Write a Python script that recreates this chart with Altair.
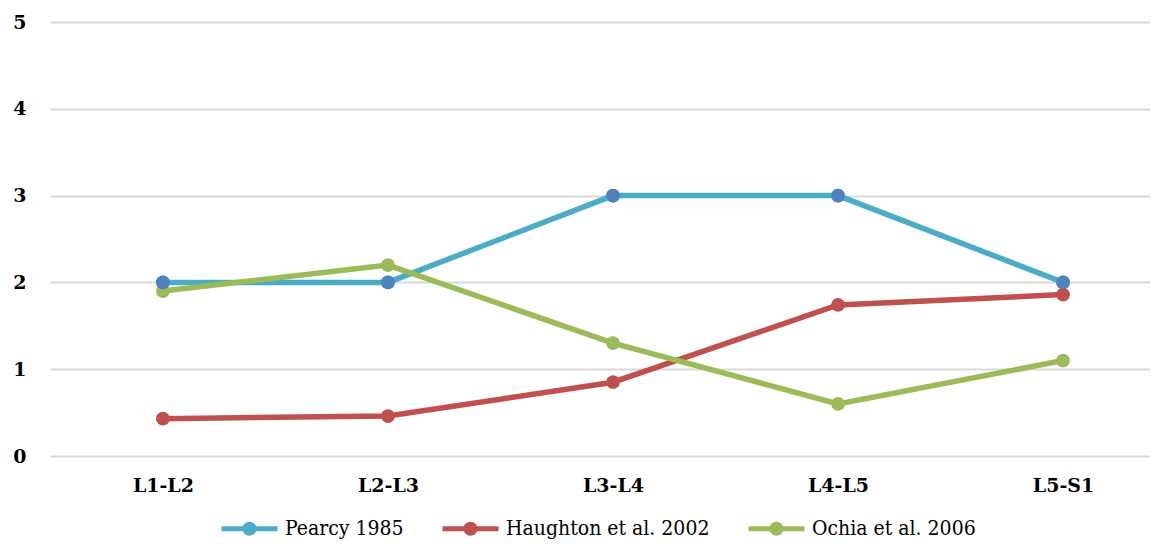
import altair as alt
import pandas as pd

categories = ["L1-L2", "L2-L3", "L3-L4", "L4-L5", "L5-S1"]
series_names = ["Pearcy 1985", "Haughton et al. 2002", "Ochia et al. 2006"]
pearcy = [2, 2, 3, 3, 2]
haughton = [0.43, 0.46, 0.85, 1.74, 1.86]
ochia = [1.9, 2.2, 1.3, 0.6, 1.1]
line_colors = ["#4BACC6", "#C0504D", "#9BBB59"]
marker_colors = ["#4F81BD", "#C0504D", "#9BBB59"]

rows = []
for name, vals, mc in zip(series_names, [pearcy, haughton, ochia], marker_colors):
    for c, v in zip(categories, vals):
        rows.append({"cat": c, "value": v, "series": name, "mcolor": mc})
df = pd.DataFrame(rows)

xenc = alt.X("cat:N", sort=categories, title=None,
             scale=alt.Scale(type="point", padding=0.444, align=0.565),
             axis=alt.Axis(labelAngle=0, labelFont="DejaVu Serif", labelFontWeight="bold",
                           labelFontSize=19, labelColor="#000000", ticks=False, domain=False,
                           labelPadding=20, grid=False))
yenc = alt.Y("value:Q", title=None, scale=alt.Scale(domain=[0, 5], nice=False),
             axis=alt.Axis(values=[0, 1, 2, 3, 4, 5], format="d", labelFont="DejaVu Serif",
                           labelFontWeight="bold", labelFontSize=19, labelColor="#000000",
                           ticks=False, domain=False, labelPadding=24, gridColor="#D9D9D9",
                           gridWidth=2))

color_scale = alt.Scale(domain=series_names, range=line_colors)

legend_path = ("M-1,-0.36L7,-0.36L7,0.36L-1,0.36Z "
               "M2,0A1,1 0 1,1 4,0A1,1 0 1,1 2,0Z")

leg = alt.Legend(title=None, orient="none", direction="horizontal",
                 legendX=168, legendY=496, columns=3,
                 symbolType=legend_path, symbolSize=196,
                 symbolStrokeWidth=0, symbolOpacity=1,
                 labelOffset=46, columnPadding=35,
                 labelFont="DejaVu Serif Condensed, DejaVu Serif", labelFontSize=21,
                 labelColor="#000000", labelLimit=400)

lines = alt.Chart(df).mark_line(strokeWidth=5.5).encode(
    x=xenc, y=yenc,
    color=alt.Color("series:N", scale=color_scale, sort=series_names, legend=leg),
    detail="series:N",
)

points = alt.Chart(df).mark_point(filled=True, size=190, opacity=1).encode(
    x=xenc, y=yenc,
    color=alt.Color("series:N", scale=color_scale, sort=series_names, legend=leg),
)

pearcy_marks = alt.Chart(df).transform_filter(
    alt.datum.series == "Pearcy 1985"
).mark_point(filled=True, size=190, opacity=1, color="#4F81BD").encode(x=xenc, y=yenc)

chart = alt.layer(lines, points, pearcy_marks).properties(
    width=1100, height=434,
    autosize=alt.AutoSizeParams(type="none"),
    padding={"left": 42, "top": 14, "right": 0, "bottom": 88},
).configure(background="#FFFFFF").configure_view(stroke=None)

chart.save("out.html", embed_options={"renderer": "svg", "actions": False})
